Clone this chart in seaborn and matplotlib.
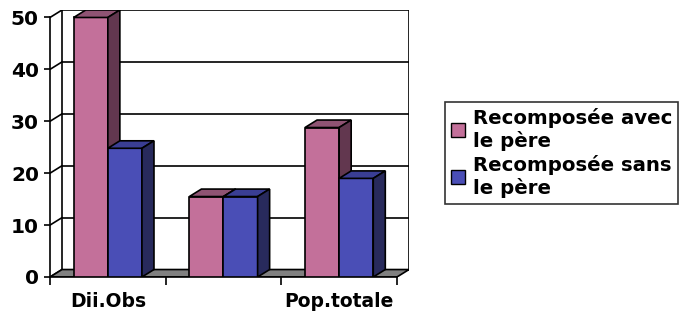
import pandas as pd
import numpy as np

import matplotlib
matplotlib.use("Agg")
import matplotlib.pyplot as plt
from matplotlib.patches import Polygon, Patch
import seaborn as sns

# data
categories = ["Dii.Obs", "", "Pop.totale"]
series = ["Recomposée avec le père", "Recomposée sans le père"]
avec_pere = [50, 15.5, 28.8]
sans_pere = [24.8, 15.5, 19]
y_ticks = [0, 10, 20, 30, 40, 50]

front_colors = ["#C3709A", "#4A4EB6"]
top_colors = ["#8F5373", "#3A3E94"]
side_colors = ["#62374F", "#282A5C"]

# 3d depth offset (data units)
DX, DY = 0.104, 1.44
YMAX = 50

df = pd.DataFrame({
    "cat": categories * 2,
    "serie": [series[0]] * 3 + [series[1]] * 3,
    "val": avec_pere + sans_pere,
})

sns.set_theme(style="white")
plt.rcParams["font.family"] = ["DejaVu Sans"]
plt.rcParams["font.weight"] = "bold"
plt.rcParams["text.color"] = "black"
plt.rcParams["xtick.color"] = "black"
plt.rcParams["ytick.color"] = "black"

fig = plt.figure(figsize=(6.8, 3.16), dpi=100)
ax = fig.add_axes([50 / 680, 39 / 316, 359 / 680, 267 / 316])

sns.barplot(data=df, x="cat", y="val", hue="serie", order=categories,
            hue_order=series, palette=front_colors, width=0.59, gap=0,
            edgecolor="black", linewidth=1.2, saturation=1, ax=ax,
            legend=False, errorbar=None)
bars = sorted(list(ax.patches), key=lambda p: p.get_x())

ax.set_xlim(-0.5, 2.5 + DX)
ax.set_ylim(0, YMAX + DY)

lw = 1.2
# floor
floor = Polygon([(-0.5, 0), (2.5, 0), (2.5 + DX, DY), (-0.5 + DX, DY)],
                closed=True, facecolor="#808080", edgecolor="black", lw=lw, zorder=1)
ax.add_patch(floor)
# back wall gridlines + left wall diagonals
for t in y_ticks:
    ax.plot([-0.5 + DX, 2.5 + DX], [t + DY, t + DY], color="black", lw=lw, zorder=0.5)
    ax.plot([-0.5, -0.5 + DX], [t, t + DY], color="black", lw=lw, zorder=0.5)
ax.plot([-0.5 + DX, -0.5 + DX], [DY, YMAX + DY], color="black", lw=lw, zorder=0.5)
ax.plot([2.5 + DX, 2.5 + DX], [DY, YMAX + DY], color="black", lw=lw, zorder=0.5)

# 3d tops and sides from the bar geometry
pink_rgb = matplotlib.colors.to_rgb(front_colors[0])
for i, b in enumerate(bars):
    k = 0 if np.allclose(b.get_facecolor()[:3], pink_rgb) else 1
    z = 3 + i * 0.1
    b.set_zorder(z)
    x0, w, h = b.get_x(), b.get_width(), b.get_height()
    top = Polygon([(x0, h), (x0 + w, h), (x0 + w + DX, h + DY), (x0 + DX, h + DY)],
                  closed=True, facecolor=top_colors[k], edgecolor="black", lw=lw, zorder=z)
    side = Polygon([(x0 + w, 0), (x0 + w, h), (x0 + w + DX, h + DY), (x0 + w + DX, DY)],
                   closed=True, facecolor=side_colors[k], edgecolor="black", lw=lw, zorder=z)
    ax.add_patch(top)
    ax.add_patch(side)

# axes styling
for s in ["top", "right"]:
    ax.spines[s].set_visible(False)
ax.spines["left"].set_bounds(0, YMAX)
ax.spines["bottom"].set_bounds(-0.5, 2.5)
for s in ["left", "bottom"]:
    ax.spines[s].set_linewidth(lw)
    ax.spines[s].set_color("black")
    ax.spines[s].set_zorder(2)

ax.set_yticks(y_ticks)
ax.set_yticklabels([str(t) for t in y_ticks], fontsize=14.5, fontweight="bold")
ax.tick_params(axis="y", direction="out", length=4, width=lw, color="black", pad=4, left=True)

ax.set_xticks(range(len(categories)))
ax.set_xticklabels(categories, fontsize=13.5, fontweight="bold")
ax.set_xticks([-0.5, 0.5, 1.5, 2.5], minor=True)
ax.tick_params(axis="x", which="major", length=0, pad=11)
ax.tick_params(axis="x", which="minor", direction="out", length=6, width=lw,
               color="black", bottom=True)
ax.set_xlabel("")
ax.set_ylabel("")

# legend
handles = [Patch(facecolor=c, edgecolor="black", lw=1) for c in front_colors]
labels = ["Recomposée avec\nle père", "Recomposée sans\nle père"]
leg = fig.legend(handles, labels, loc="upper left", bbox_to_anchor=(445 / 680, 1 - 102 / 316),
                 frameon=True, fancybox=False, prop={"size": 14.2, "weight": "bold"},
                 handlelength=0.72, handleheight=0.72, handletextpad=0.4,
                 labelspacing=0.2, borderpad=0.3, borderaxespad=0)
leg.get_frame().set_edgecolor("black")
leg.get_frame().set_linewidth(1.2)

fig.savefig("out.png", dpi=100)
